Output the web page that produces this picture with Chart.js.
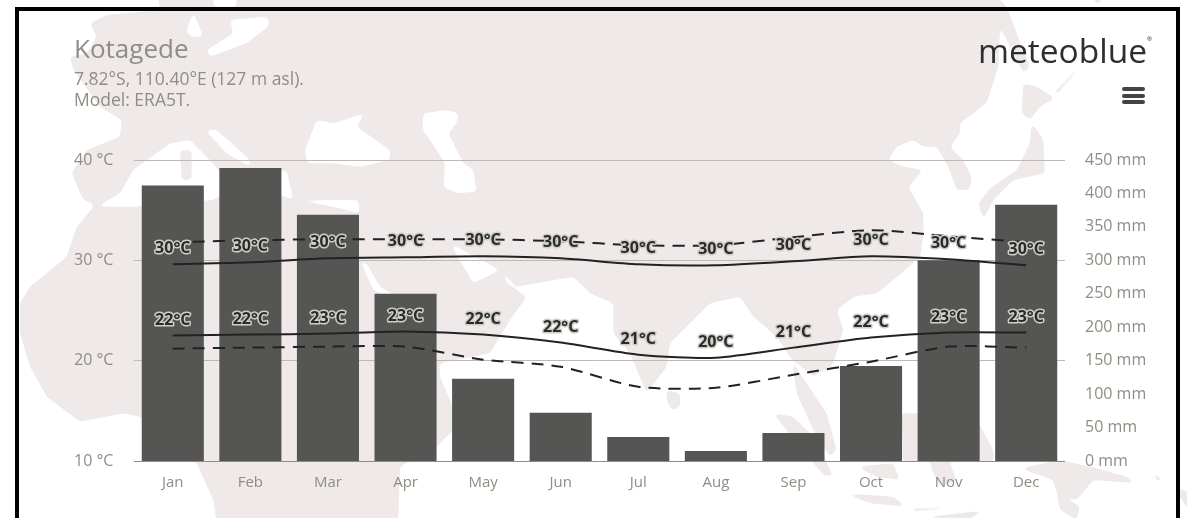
<!DOCTYPE html>
<html><head><meta charset="utf-8">
<script src="https://cdn.jsdelivr.net/npm/chart.js@4"></script>
<style>
html,body{margin:0;padding:0;background:#fff;width:1187px;height:518px;overflow:hidden}
#map{position:absolute;left:0;top:0}
#frame{position:absolute;left:15px;top:7px;width:1157px;height:600px;border:4.5px solid #000}
#c{position:absolute;left:0;top:0}
.t{position:absolute;font-family:"Open Sans",sans-serif;white-space:nowrap;color:#8f8d84}
#title{left:74px;top:30px;font-size:26px;line-height:36px}
#sub{left:74px;top:68px;font-size:17.5px;line-height:21px}
#logo{position:absolute;left:978px;top:26px;font-family:"Open Sans",sans-serif;font-size:33.5px;line-height:48px;color:#2e2e2e;white-space:nowrap}
#logo sup{font-size:6px;line-height:0;position:relative;top:-10px;left:0}
#menu{position:absolute;left:1122px;top:87px;width:23px}
#menu i{display:block;height:4px;background:#444;border-radius:2px;margin-bottom:2.5px}
</style></head><body>
<svg id="map" width="1187" height="518" viewBox="0 0 1187 518">
<defs><filter id="round" filterUnits="userSpaceOnUse" x="-50" y="-50" width="1300" height="650">
<feGaussianBlur stdDeviation="2"/><feComponentTransfer><feFuncA type="linear" slope="6" intercept="-2.5"/></feComponentTransfer>
</filter></defs>
<g filter="url(#round)"><g transform="scale(0.33333)" fill="#efe9e9">
<path d="M470,-60 L480,30 L320,45 L270,70 L290,110 L260,160 L210,170 L220,210 L300,320 L365,360 L360,410 L260,450 L215,520 L250,600 L285,615 L230,680 L200,770 L90,860 L60,910 L60,1000 L90,1100 L140,1190 L240,1265 L370,1240 L420,1250 L500,1310 L590,1390 L640,1500 L670,1700 L1190,1700 L1200,1400 L1310,1340 L1380,1270 L1320,1130 L1320,1090 L1470,1060 L1530,960 L1580,890 L1520,850 L1500,810 L1420,850 L1350,730 L1500,810 L1550,860 L1720,830 L1770,880 L1840,910 L1840,1000 L1890,1060 L1940,1180 L2000,1100 L2010,1030 L2130,910 L2220,890 L2260,950 L2330,1010 L2370,1070 L2440,1130 L2490,1100 L2500,1090 L2530,990 L2511,930 L2561,890 L2631,880 L2691,830 L2761,770 L2771,700 L2770,640 L2725,560 L2770,510 L2710,500 L2665,480 L2690,440 L2740,420 L2770,440 L2810,440 L2845,500 L2870,570 L2910,570 L2915,530 L2890,480 L2850,440 L2880,400 L2880,370 L2960,310 L2995,200 L3000,80 L2985,-60 Z"/>
<path d="M2980,-20 L3020,20 L3050,100 L3090,200 L3070,220 L3010,100 Z"/>
<path d="M3070,250 L3110,260 L3165,295 L3120,320 L3090,360 L3065,340 Z"/>
<path d="M3095,365 L3130,420 L3135,520 L3040,540 L2980,600 L2950,660 L2935,610 L2970,565 L3050,510 L3090,430 Z"/>
<path d="M3160,280 L3230,205 L3235,212 L3170,285 Z"/>
<path d="M3280,-20 L3310,-20 L3300,12 L3285,10 Z"/>
<path d="M2375,1080 L2410,1135 L2480,1240 L2510,1350 L2490,1370 L2440,1290 L2390,1180 Z"/>
<path d="M2320,1240 L2380,1250 L2450,1320 L2500,1430 L2470,1425 L2390,1330 Z"/>
<path d="M2705,1240 L2920,1240 L2980,1350 L2980,1385 L2710,1385 Z"/>
<path d="M2570,1400 L2680,1390 L2700,1440 L2630,1430 Z"/>
<path d="M2530,1480 L2680,1490 L2720,1520 L2610,1510 Z"/>
<path d="M2730,1525 L2840,1520 L2820,1530 L2740,1535 Z"/>
<path d="M2790,1550 L2960,1530 L2880,1570 L2820,1570 Z"/>
<path d="M2790,1390 L2850,1390 L2870,1440 L2820,1460 L2800,1420 Z"/>
<path d="M3060,1405 L3180,1380 L3290,1405 L3380,1430 L3410,1450 L3280,1440 L3230,1500 L3170,1480 L3160,1440 Z"/>
<path d="M3170,1480 L3240,1520 L3230,1560 L3180,1530 Z"/>
<path d="M3440,1405 L3485,1435 L3475,1450 L3460,1425 Z"/>
<path d="M3520,1460 L3600,1490 L3600,1560 L3560,1520 Z"/>
<path d="M2000,1170 L2040,1180 L2040,1220 L2015,1232 L2000,1200 Z"/>
</g></g>
<g filter="url(#round)"><g transform="scale(0.33333)" fill="#fff">
<path d="M290,620 L360,580 L400,510 L510,430 L570,420 L620,470 L700,560 L640,600 L400,620 Z"/>
<path d="M615,390 L650,390 L750,480 L750,500 L680,460 Z"/>
<path d="M760,520 L860,510 L880,600 L1075,600 L1080,640 L1000,620 L880,600 L800,570 Z"/>
<path d="M915,450 L950,360 L1000,370 L1095,340 L1070,380 L1170,450 L1170,480 L1080,500 L1000,490 L920,490 Z"/>
<path d="M1080,780 L1100,790 L1140,860 L1200,895 L1180,900 L1120,870 Z"/>
<path d="M690,60 L800,50 L810,75 L740,130 L630,170 L620,150 L700,100 Z"/>
<path d="M580,35 L610,110 L570,110 L560,90 Z"/>
<path d="M640,-20 L710,-20 L710,20 L640,20 Z"/>
<path d="M1270,340 L1340,330 L1375,340 L1370,370 L1345,400 L1390,490 L1420,510 L1430,575 L1370,580 L1330,560 L1335,490 L1290,420 L1268,390 Z"/>
</g></g>
<g filter="url(#round)"><path transform="scale(0.33333)" fill="#efe9e9" d="M540,450 L575,450 L575,540 L545,540 Z"/></g>
</svg>
<canvas id="c" width="1187" height="518"></canvas>
<div id="frame"></div>
<div class="t" id="title">Kotagede</div>
<div class="t" id="sub">7.82°S, 110.40°E (127 m asl).<br>Model: ERA5T.</div>
<div id="logo">meteoblue<sup>®</sup></div>
<div id="menu"><i></i><i></i><i></i></div>
<script>
const months = ["Jan","Feb","Mar","Apr","May","Jun","Jul","Aug","Sep","Oct","Nov","Dec"];
const precipitation = [412,438,368,250,123,72,36,15,42,142,300,383];
const meanMax = [29.6,29.8,30.2,30.3,30.4,30.2,29.6,29.5,29.9,30.4,30.1,29.5];
const hotDays = [31.8,32.0,32.1,32.1,32.1,31.9,31.5,31.5,32.3,33.0,32.4,31.8];
const meanMin = [22.5,22.6,22.7,22.9,22.6,21.8,20.6,20.3,21.3,22.3,22.8,22.8];
const coldNights = [21.2,21.3,21.4,21.4,20.1,19.4,17.4,17.3,18.6,19.9,21.4,21.3];
const maxLabels = [30,30,30,30,30,30,30,30,30,30,30,30];
const minLabels = [22,22,23,23,22,22,21,20,21,22,23,23];

const labelPlugin = {
  id: "tempLabels",
  afterDatasetsDraw(chart) {
    const ctx = chart.ctx;
    ctx.save();
    ctx.font = "bold 16px 'Open Sans', sans-serif";
    ctx.textAlign = "center";
    ctx.textBaseline = "middle";
    ctx.lineJoin = "round";
    [[1, maxLabels], [3, minLabels]].forEach(([idx, texts]) => {
      chart.getDatasetMeta(idx).data.forEach((pt, i) => {
        const s = texts[i] + "°C";
        ctx.lineWidth = 3;
        ctx.strokeStyle = "#cfcdc8";
        ctx.strokeText(s, pt.x, pt.y - 15.5);
        ctx.fillStyle = "#2b2b2b";
        ctx.fillText(s, pt.x, pt.y - 15.5);
      });
    });
    ctx.restore();
  }
};

const lineBase = {type:"line", yAxisID:"y", pointRadius:0, fill:false, tension:0.25, order:1, borderColor:"#222", borderWidth:2};
const tickFont = {family:"'Open Sans', sans-serif", size:16};

new Chart(document.getElementById("c"), {
  data: {
    labels: months,
    datasets: [
      {type:"bar", label:"Precipitation", data:precipitation, yAxisID:"y1", backgroundColor:"#555553", barPercentage:0.8, categoryPercentage:1, order:2},
      {...lineBase, label:"Mean daily maximum", data:meanMax},
      {...lineBase, label:"Hot days", data:hotDays, borderDash:[12,8]},
      {...lineBase, label:"Mean daily minimum", data:meanMin},
      {...lineBase, label:"Cold nights", data:coldNights, borderDash:[12,8]}
    ]
  },
  options: {
    responsive:false, animation:false,
    layout:{padding:{left:74, right:39, top:160, bottom:0}},
    plugins:{legend:{display:false}, tooltip:{enabled:false}, title:{display:false}},
    scales:{
      x:{
        grid:{display:false, drawTicks:false}, border:{display:false},
        ticks:{color:"#8f8d84", font:{family:"'Open Sans', sans-serif", size:15}, padding:13, maxRotation:0},
        afterFit(s){ s.height = 57; }
      },
      y:{
        position:"left", min:10, max:40,
        ticks:{stepSize:10, color:"#8f8d84", font:tickFont, crossAlign:"far", padding:0, callback:v=>v+" °C"},
        grid:{drawTicks:false, lineWidth:1, color:c=>c.tick.value===10?"#8f8c84":"#bdbab6"},
        border:{display:false},
        afterFit(s){ s.width = 60; }
      },
      y1:{
        position:"right", min:0, max:450,
        ticks:{stepSize:50, color:"#8f8d84", font:tickFont, padding:20, callback:v=>v+" mm"},
        grid:{display:false, drawTicks:false},
        border:{display:false},
        afterFit(s){ s.width = 83; }
      }
    }
  },
  plugins:[labelPlugin]
});
</script>
</body></html>
